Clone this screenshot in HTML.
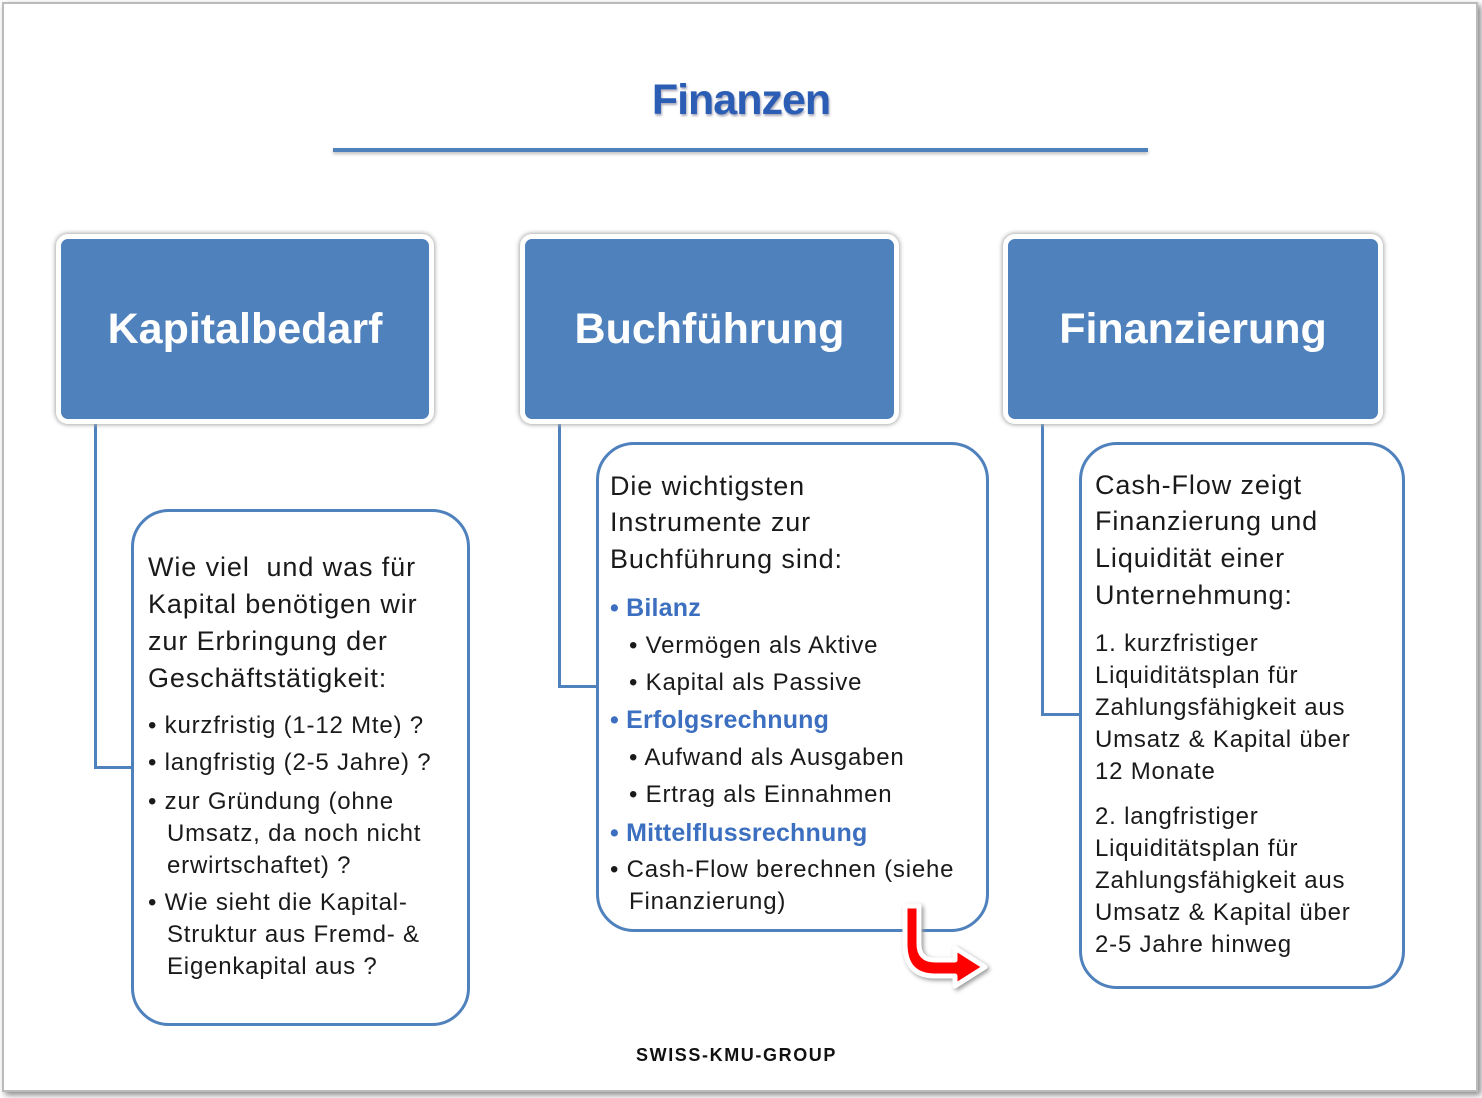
<!DOCTYPE html>
<html><head><meta charset="utf-8"><style>
body{margin:0;width:1482px;height:1098px;background:#fff;position:relative;overflow:hidden;font-family:"Liberation Sans",sans-serif;}
.frame{position:absolute;left:2px;top:2px;width:1472px;height:1086px;border:2px solid #bbb;box-shadow:3px 3px 6px #888;}
.t{position:absolute;white-space:nowrap;color:#1a1a1a;}
.hdr{position:absolute;background:#4f81bd;border:5px solid #fff;border-radius:12px;box-shadow:0 0 4px 1px #aaa;color:#fff;font-weight:bold;font-size:43px;display:flex;align-items:center;justify-content:center;}
.box{position:absolute;border:3px solid #4f81bd;border-radius:38px;background:#fff;}
.ln{position:absolute;background:#4f81bd;}
.m{font-size:27px;letter-spacing:0.9px;}
.s{font-size:24px;letter-spacing:0.8px;}
.b{font-size:25px;color:#3c6fc0;font-weight:bold;letter-spacing:0.2px;}
</style></head><body>
<div class="frame"></div>
<div class="t" style="left:0;width:1482px;text-align:center;top:76px;font-size:43px;font-weight:bold;color:#2b5db5;text-shadow:1px 2px 2px #aab;letter-spacing:-1px;">Finanzen</div>
<div class="ln" style="left:333px;top:148px;width:815px;height:4px;box-shadow:0 2px 3px #bbb;"></div>

<div class="ln" style="left:94px;top:418px;width:3px;height:351px;"></div>
<div class="ln" style="left:94px;top:766px;width:40px;height:3px;"></div>
<div class="ln" style="left:558px;top:418px;width:3px;height:270px;"></div>
<div class="ln" style="left:558px;top:685px;width:41px;height:3px;"></div>
<div class="ln" style="left:1041px;top:418px;width:3px;height:298px;"></div>
<div class="ln" style="left:1041px;top:713px;width:41px;height:3px;"></div>

<div class="hdr" style="left:56px;top:234px;width:368px;height:180px;">Kapitalbedarf</div>
<div class="hdr" style="left:520px;top:234px;width:369px;height:180px;">Buchführung</div>
<div class="hdr" style="left:1003px;top:234px;width:370px;height:180px;">Finanzierung</div>

<div class="box" style="left:131px;top:509px;width:333px;height:511px;"></div>
<div class="box" style="left:596px;top:442px;width:387px;height:484px;"></div>
<div class="box" style="left:1079px;top:442px;width:320px;height:541px;"></div>

<div class="t m" style="left:148px;top:552px;">Wie viel&nbsp; und was für</div>
<div class="t m" style="left:148px;top:589px;">Kapital benötigen wir</div>
<div class="t m" style="left:148px;top:626px;">zur Erbringung der</div>
<div class="t m" style="left:148px;top:663px;">Geschäftstätigkeit:</div>
<div class="t s" style="left:148px;top:712px;">• kurzfristig (1-12 Mte) ?</div>
<div class="t s" style="left:148px;top:749px;">• langfristig (2-5 Jahre) ?</div>
<div class="t s" style="left:148px;top:788px;">• zur Gründung (ohne</div>
<div class="t s" style="left:167px;top:820px;">Umsatz, da noch nicht</div>
<div class="t s" style="left:167px;top:852px;">erwirtschaftet) ?</div>
<div class="t s" style="left:148px;top:889px;">• Wie sieht die Kapital-</div>
<div class="t s" style="left:167px;top:921px;">Struktur aus Fremd- &amp;</div>
<div class="t s" style="left:167px;top:953px;">Eigenkapital aus ?</div>

<div class="t m" style="left:610px;top:471px;">Die wichtigsten</div>
<div class="t m" style="left:610px;top:507px;">Instrumente zur</div>
<div class="t m" style="left:610px;top:544px;">Buchführung sind:</div>
<div class="t b" style="left:610px;top:594px;">• Bilanz</div>
<div class="t s" style="left:629px;top:632px;">• Vermögen als Aktive</div>
<div class="t s" style="left:629px;top:669px;">• Kapital als Passive</div>
<div class="t b" style="left:610px;top:706px;">• Erfolgsrechnung</div>
<div class="t s" style="left:629px;top:744px;">• Aufwand als Ausgaben</div>
<div class="t s" style="left:629px;top:781px;">• Ertrag als Einnahmen</div>
<div class="t b" style="left:610px;top:819px;">• Mittelflussrechnung</div>
<div class="t s" style="left:610px;top:856px;">• Cash-Flow berechnen (siehe</div>
<div class="t s" style="left:629px;top:888px;">Finanzierung)</div>

<div class="t m" style="left:1095px;top:470px;">Cash-Flow zeigt</div>
<div class="t m" style="left:1095px;top:506px;">Finanzierung und</div>
<div class="t m" style="left:1095px;top:543px;">Liquidität einer</div>
<div class="t m" style="left:1095px;top:580px;">Unternehmung:</div>
<div class="t s" style="left:1095px;top:630px;">1. kurzfristiger</div>
<div class="t s" style="left:1095px;top:662px;">Liquiditätsplan für</div>
<div class="t s" style="left:1095px;top:694px;">Zahlungsfähigkeit aus</div>
<div class="t s" style="left:1095px;top:726px;">Umsatz &amp; Kapital über</div>
<div class="t s" style="left:1095px;top:758px;">12 Monate</div>
<div class="t s" style="left:1095px;top:803px;">2. langfristiger</div>
<div class="t s" style="left:1095px;top:835px;">Liquiditätsplan für</div>
<div class="t s" style="left:1095px;top:867px;">Zahlungsfähigkeit aus</div>
<div class="t s" style="left:1095px;top:899px;">Umsatz &amp; Kapital über</div>
<div class="t s" style="left:1095px;top:931px;">2-5 Jahre hinweg</div>

<svg style="position:absolute;left:895px;top:900px;" width="100" height="95">
<path d="M10 6 H24 V44 Q24 60 40 60 H60 V48 L90 67 L60 86 V76 H40 Q10 76 10 44 Z" fill="#f00" stroke="#fff" stroke-width="5" stroke-linejoin="round" style="filter:drop-shadow(2px 2px 2px #999)"/>
</svg>

<div class="t" style="left:636px;top:1045px;font-size:18px;font-weight:bold;letter-spacing:1.6px;color:#111;">SWISS-KMU-GROUP</div>
</body></html>
